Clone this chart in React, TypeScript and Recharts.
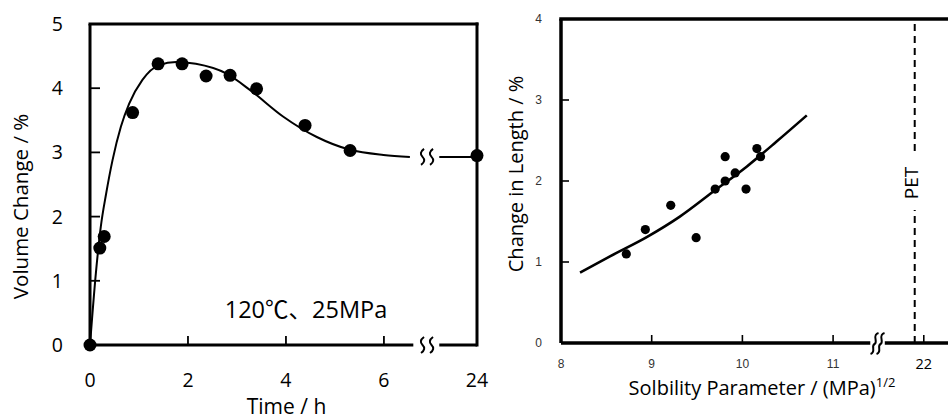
import React from "react";
import {
  ComposedChart,
  Line,
  Scatter,
  XAxis,
  YAxis,
  ReferenceLine,
  ReferenceDot,
  Label,
} from "recharts";

const FONT = "'Open Sans', 'Noto Sans CJK JP', sans-serif";
const SMALL_FONT = "'Liberation Sans', Arial, sans-serif";

// ---- left panel: volume change during immersion
const measTime = [0, 0.2, 0.29, 0.87, 1.39, 1.88, 2.37, 2.86, 3.4, 4.39, 5.31, 24];
const measVol = [0, 1.51, 1.69, 3.62, 4.38, 4.38, 4.19, 4.2, 3.99, 3.42, 3.03, 2.95];
const curveTime = [0, 0.12, 0.22, 0.33, 0.46, 0.63, 0.8, 1.07, 1.41, 1.76, 2.16, 2.78, 3.27, 3.94, 4.63, 5.31, 5.99, 6.53];
const curveVol = [0, 1.12, 1.84, 2.36, 2.88, 3.4, 3.76, 4.13, 4.36, 4.41, 4.38, 4.23, 3.97, 3.56, 3.24, 3.04, 2.96, 2.93];
const tailVol = [2.93, 2.93]; // level carried past the axis break to 24 h
const timeTicks = [0, 2, 4, 6, 24];
const volTicks = [0, 1, 2, 3, 4, 5];

// ---- right panel: length change vs solubility parameter
const spValues = [8.72, 8.93, 9.21, 9.49, 9.7, 9.81, 9.81, 9.92, 10.04, 10.16, 10.2];
const lengthChange = [1.1, 1.4, 1.7, 1.3, 1.9, 2.3, 2.0, 2.1, 1.9, 2.4, 2.3];
const fitSp = [8.21, 8.54, 8.95, 9.31, 9.68, 10.05, 10.38, 10.71];
const fitLength = [0.87, 1.07, 1.31, 1.56, 1.87, 2.18, 2.49, 2.81];
const spTicks = [8, 9, 10, 11, 22];
const lengthTicks = [0, 1, 2, 3, 4];
const PET_SP = 21.9;

// broken time axis: everything after 7 h sits at the right edge
const T_MAX = 7.9;
const T_BREAK = 6.88;
const tPos = (t: number) => (t > 7 ? T_MAX : t);

// broken sp axis: 22 is drawn where 12 would be
const SP_MAX = 12.3;
const SP_BREAK = 11.49;
const spPos = (s: number) => (s > 15 ? s - 10 : s);

const measData = measTime.map((t, i) => ({ x: tPos(t), y: measVol[i] }));
const curveData = curveTime.map((t, i) => ({ x: t, y: curveVol[i] }));
const tailData = [T_BREAK + 0.25, tPos(24)].map((x, i) => ({ x, y: tailVol[i] }));
const spData = spValues.map((s, i) => ({ x: spPos(s), y: lengthChange[i] }));
const fitData = fitSp.map((s, i) => ({ x: spPos(s), y: fitLength[i] }));

const dot = (r: number) => (p: any) => <circle cx={p.cx} cy={p.cy} r={r} fill="#000" />;

// tick labels sit `tickMargin` px outside the axis; the tick mark points inward
function LeftYTick(p: any) {
  const { x, y, payload } = p;
  const ax = x + 27;
  return (
    <g>
      <path d={`M ${ax} ${y} h 10`} stroke="#000" strokeWidth={1.8} />
      <text x={x} y={y} dy="0.36em" textAnchor="end" fontSize={19.5} fontFamily={FONT} fill="#000">
        {payload.value}
      </text>
    </g>
  );
}

function LeftXTick(p: any) {
  const { x, y, payload } = p;
  const v = payload.value;
  const ay = y - 28;
  return (
    <g>
      <path d={`M ${x} ${ay} v -9`} stroke="#000" strokeWidth={1.8} />
      <text x={x} y={y} dy="0.72em" textAnchor="middle" fontSize={19.5} fontFamily={FONT} fill="#000">
        {v >= T_MAX ? "24" : String(v)}
      </text>
    </g>
  );
}

function RightYTick(p: any) {
  const { x, y, payload } = p;
  const ax = x + 19;
  return (
    <g>
      <path d={`M ${ax} ${y} h 8`} stroke="#000" strokeWidth={1.6} />
      <text x={x} y={y} dy="0.36em" textAnchor="end" fontSize={12} fontFamily={SMALL_FONT} fill="#333">
        {payload.value}
      </text>
    </g>
  );
}

function RightXTick(p: any) {
  const { x, y, payload } = p;
  const isFar = payload.value > 11.5;
  const ay = y - 16;
  return (
    <g>
      <path d={`M ${x} ${ay} v -8`} stroke="#000" strokeWidth={1.6} />
      <text
        x={x}
        y={y}
        dy="0.72em"
        textAnchor="middle"
        fontSize={isFar ? 14.5 : 12}
        fontFamily={isFar ? FONT : SMALL_FONT}
        fill={isFar ? "#000" : "#333"}
      >
        {isFar ? "22" : payload.value}
      </text>
    </g>
  );
}

// "≀≀" break mark
function WaveBreak({ cx, cy }: any) {
  const wave = (x: number) =>
    `M ${x + 1.5} ${cy - 8} Q ${x - 4} ${cy - 4} ${x} ${cy} Q ${x + 4} ${cy + 4} ${x - 1.5} ${cy + 8}`;
  return (
    <g fill="none" stroke="#000" strokeWidth={2}>
      <path d={wave(cx - 4.5)} />
      <path d={wave(cx + 4.5)} />
    </g>
  );
}

// slanted double-S break mark
function SlashBreak({ cx, cy }: any) {
  const s = (x: number) =>
    `M ${x + 4} ${cy - 10} C ${x - 3} ${cy - 8} ${x + 4} ${cy - 1} ${x} ${cy + 1} C ${x - 4} ${cy + 3} ${x + 2} ${cy + 9} ${x - 4} ${cy + 11}`;
  return (
    <g fill="none" stroke="#000" strokeWidth={2}>
      <path d={s(cx - 3)} />
      <path d={s(cx + 3)} />
    </g>
  );
}

function PetLabel(p: any) {
  const vb = p.viewBox;
  const cx = vb.x - 4;
  const cy = vb.y + vb.height / 2 + 2;
  return (
    <g>
      <rect x={vb.x - 8} y={cy - 27} width={16} height={54} fill="#fff" />
      <text
        x={cx}
        y={cy}
        dy="0.36em"
        textAnchor="middle"
        transform={`rotate(-90 ${cx} ${cy})`}
        fontSize={19}
        fontFamily={FONT}
        fill="#000"
      >
        PET
      </text>
    </g>
  );
}

function VolumePanel() {
  return (
    <ComposedChart width={500} height={419} margin={{ top: 24, right: 23, bottom: 0, left: 0 }}>
      <XAxis
        type="number"
        dataKey="x"
        domain={[0, T_MAX]}
        ticks={timeTicks.map(tPos)}
        interval={0}
        axisLine={false}
        tickLine={false}
        tickSize={0}
        tickMargin={28}
        height={74}
        tick={LeftXTick}
      >
        <Label
          content={(p: any) => (
            <text
              x={p.viewBox.x + p.viewBox.width / 2 + 3}
              y={p.viewBox.y + 69}
              textAnchor="middle"
              fontSize={21}
              fontFamily={FONT}
              fill="#000"
            >
              Time / h
            </text>
          )}
        />
      </XAxis>
      <YAxis
        type="number"
        dataKey="y"
        domain={[0, 5]}
        ticks={volTicks}
        interval={0}
        axisLine={{ stroke: "#000", strokeWidth: 3 }}
        tickLine={false}
        tickSize={0}
        tickMargin={27}
        width={90}
        tick={LeftYTick}
      >
        <Label
          content={(p: any) => {
            const cx = p.viewBox.x + 28;
            const cy = p.viewBox.y + p.viewBox.height / 2 + 22;
            return (
              <text
                x={cx}
                y={cy}
                textAnchor="middle"
                transform={`rotate(-90 ${cx} ${cy})`}
                fontSize={20.5}
                fontFamily={FONT}
                fill="#000"
              >
                Volume Change / %
              </text>
            );
          }}
        />
      </YAxis>
      <ReferenceLine y={5} stroke="#000" strokeWidth={3} strokeLinecap="square" />
      <ReferenceLine x={T_MAX} stroke="#000" strokeWidth={3} strokeLinecap="square" />
      <ReferenceLine segment={[{ x: 0, y: 0 }, { x: 6.6, y: 0 }]} stroke="#000" strokeWidth={3} />
      <ReferenceLine segment={[{ x: T_BREAK + 0.25, y: 0 }, { x: T_MAX, y: 0 }]} stroke="#000" strokeWidth={3} />
      <ReferenceDot x={T_BREAK} y={0} r={0} shape={(p: any) => <WaveBreak cx={p.cx} cy={p.cy} />} />
      <ReferenceDot x={T_BREAK} y={tailVol[0]} r={0} shape={(p: any) => <WaveBreak cx={p.cx} cy={p.cy} />} />
      <ReferenceDot
        x={2.75}
        y={0.42}
        r={0}
        shape={(p: any) => (
          <text x={p.cx} y={p.cy} fontSize={23.5} fontFamily={FONT} fill="#000">
            120℃、25MPa
          </text>
        )}
      />
      <Line data={curveData} dataKey="y" type="monotone" stroke="#000" strokeWidth={2} dot={false} isAnimationActive={false} />
      <Line data={tailData} dataKey="y" type="linear" stroke="#000" strokeWidth={2} dot={false} isAnimationActive={false} />
      <Scatter data={measData} dataKey="y" fill="#000" shape={dot(6.5)} isAnimationActive={false} />
    </ComposedChart>
  );
}

function LengthPanel() {
  return (
    <ComposedChart width={480} height={419} margin={{ top: 19, right: 9, bottom: 0, left: 0 }}>
      <XAxis
        type="number"
        dataKey="x"
        domain={[8, SP_MAX]}
        ticks={spTicks.map(spPos)}
        interval={0}
        axisLine={false}
        tickLine={false}
        tickSize={0}
        tickMargin={16}
        height={76}
        tick={RightXTick}
      >
        <Label
          content={(p: any) => (
            <text
              x={p.viewBox.x + 201}
              y={p.viewBox.y + 52}
              textAnchor="middle"
              fontSize={20}
              fontFamily={FONT}
              fill="#000"
            >
              Solbility Parameter / (MPa)
              <tspan fontSize={13} dy={-8}>1/2</tspan>
            </text>
          )}
        />
      </XAxis>
      <YAxis
        type="number"
        dataKey="y"
        domain={[0, 4]}
        ticks={lengthTicks}
        interval={0}
        axisLine={{ stroke: "#000", strokeWidth: 3.5 }}
        tickLine={false}
        tickSize={0}
        tickMargin={19}
        width={81}
        tick={RightYTick}
      >
        <Label
          content={(p: any) => {
            const cx = p.viewBox.x + 43;
            const cy = p.viewBox.y + p.viewBox.height / 2 - 7;
            return (
              <text
                x={cx}
                y={cy}
                textAnchor="middle"
                transform={`rotate(-90 ${cx} ${cy})`}
                fontSize={20}
                fontFamily={FONT}
                fill="#000"
              >
                Change in Length / %
              </text>
            );
          }}
        />
      </YAxis>
      <ReferenceLine y={4} stroke="#000" strokeWidth={3.5} strokeLinecap="square" />
      <ReferenceLine segment={[{ x: 8, y: 0 }, { x: 11.41, y: 0 }]} stroke="#000" strokeWidth={3.5} />
      <ReferenceLine segment={[{ x: 11.57, y: 0 }, { x: SP_MAX, y: 0 }]} stroke="#000" strokeWidth={3.5} />
      <ReferenceDot x={SP_BREAK} y={0} r={0} shape={(p: any) => <SlashBreak cx={p.cx} cy={p.cy} />} />
      <ReferenceLine
        x={spPos(PET_SP)}
        stroke="#000"
        strokeWidth={2}
        strokeDasharray="7 5"
        label={(p: any) => <PetLabel {...p} />}
      />
      <Line data={fitData} dataKey="y" type="monotone" stroke="#000" strokeWidth={2.6} dot={false} isAnimationActive={false} />
      <Scatter data={spData} dataKey="y" fill="#000" shape={dot(4.6)} isAnimationActive={false} />
    </ComposedChart>
  );
}

export default function App() {
  return (
    <div
      style={{
        position: "absolute",
        left: 0,
        top: 0,
        width: 948,
        height: 419,
        overflow: "hidden",
        background: "#fff",
      }}
    >
      <div style={{ position: "absolute", left: 0, top: 0 }}>
        <VolumePanel />
      </div>
      <div style={{ position: "absolute", left: 480, top: 0 }}>
        <LengthPanel />
      </div>
    </div>
  );
}
